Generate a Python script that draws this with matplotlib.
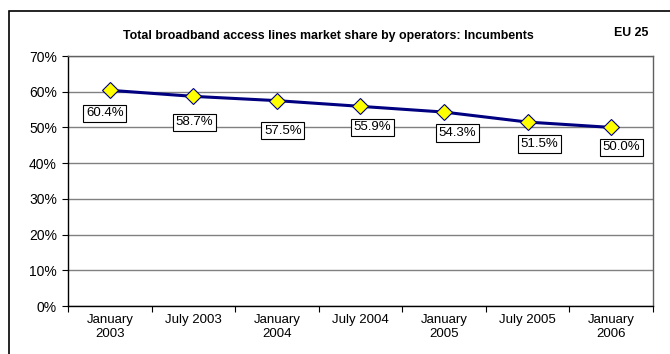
import numpy as np
import matplotlib
matplotlib.use("Agg")
import matplotlib.pyplot as plt
from matplotlib.patches import Rectangle

plt.rcParams["font.family"] = ["Liberation Sans", "DejaVu Sans"]

periods = ["January\n2003", "July 2003", "January\n2004", "July 2004",
           "January\n2005", "July 2005", "January\n2006"]
share = [60.4, 58.7, 57.5, 55.9, 54.3, 51.5, 50.0]

# label placement (pixels from marker), as laid out in the original
label_dx = [-5, 1, 6, 12, 13, 12, 10]
label_dy = [-23, -26, -30, -21, -21, -22, -20]

fig = plt.figure(figsize=(6.7, 3.54), dpi=100)
ax = fig.add_axes([68 / 670, 48 / 354, 585 / 670, 250 / 354])

# outer chart frame
fig.patches.append(Rectangle((9 / 670, -0.1), 1.0, (354 - 11) / 354 + 0.1,
                             transform=fig.transFigure, fill=False,
                             edgecolor="black", lw=1.2))

x = np.arange(len(share))
ax.plot(x, share, color="#000080", lw=2.2, zorder=3,
        marker="D", markersize=8, markerfacecolor="#FFFF00",
        markeredgecolor="#000080", markeredgewidth=0.8)

for xi, v, dx, dy in zip(x, share, label_dx, label_dy):
    ax.annotate(f"{v:.1f}%", (xi, v), xytext=(dx, dy),
                textcoords="offset pixels", ha="center", va="center",
                fontsize=9.5, zorder=4,
                bbox=dict(boxstyle="square,pad=0.2", fc="white",
                          ec="black", lw=0.8))

ax.set_xlim(-0.5, len(share) - 0.5)
ax.set_ylim(0, 70)
ax.set_yticks(np.arange(0, 71, 10))
ax.set_yticklabels([f"{t}%" for t in range(0, 71, 10)], fontsize=10)
ax.yaxis.grid(True, color="#808080", lw=1)
ax.set_axisbelow(True)

ax.set_xticks(np.arange(-0.5, len(share)), labels=[])
ax.set_xticks(x, minor=True)
ax.set_xticklabels(periods, minor=True, fontsize=9.5)
ax.tick_params(axis="x", which="minor", length=0, pad=6)
ax.tick_params(axis="x", which="major", length=4, width=0.8)
ax.tick_params(axis="y", length=4, width=0.8, pad=4)

for s in ["left", "bottom"]:
    ax.spines[s].set_color("black")
    ax.spines[s].set_linewidth(1)
for s in ["top", "right"]:
    ax.spines[s].set_color("#606060")
    ax.spines[s].set_linewidth(1)

fig.text(328 / 670, 1 - 36 / 354,
         "Total broadband access lines market share by operators: Incumbents",
         ha="center", va="center", fontsize=8.9, fontweight="bold")
fig.text(631 / 670, 1 - 33 / 354, "EU 25", ha="center", va="center",
         fontsize=8.9, fontweight="bold")

fig.savefig("out.png", dpi=100)
